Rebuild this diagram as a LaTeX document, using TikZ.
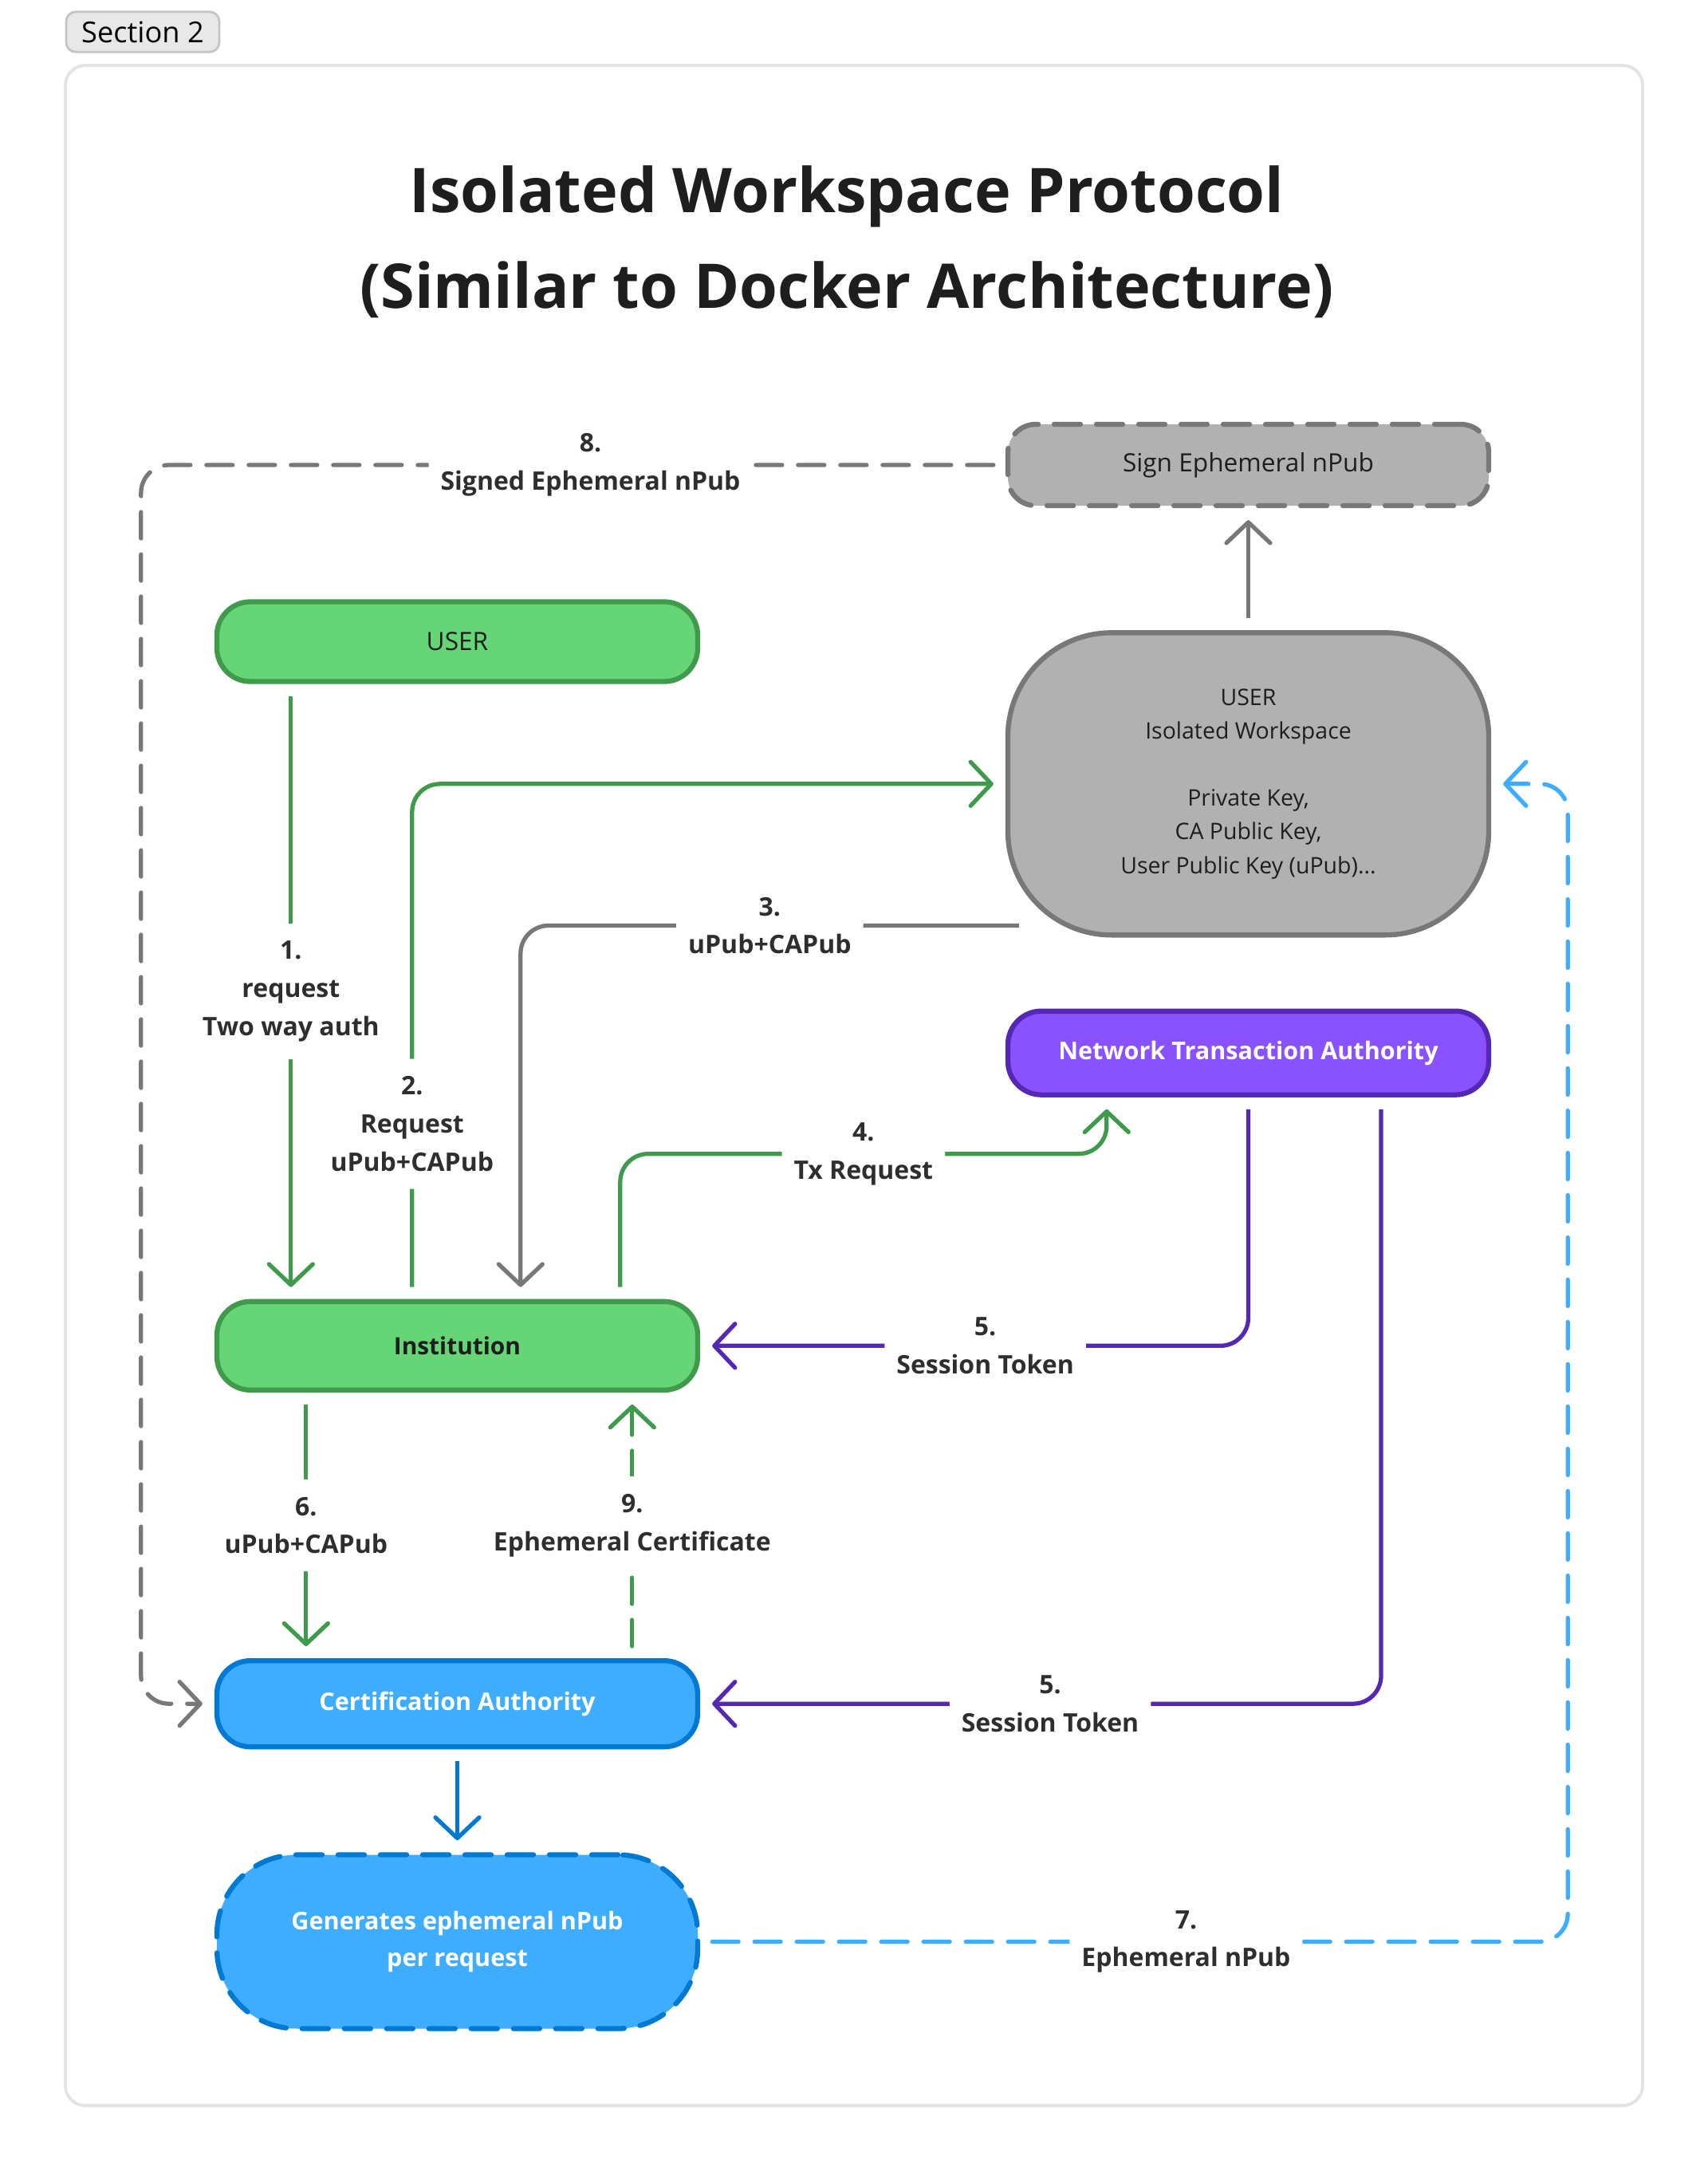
\documentclass[tikz,border=0pt]{standalone}
\usepackage{fontspec}
\setmainfont{Open Sans}
\setsansfont{Open Sans}
\usetikzlibrary{positioning,arrows.meta}
\definecolor{ink}{HTML}{1E1E1E}
\definecolor{lblink}{HTML}{2E2E2E}
\definecolor{grnfill}{HTML}{66D575}
\definecolor{grnline}{HTML}{3F9B4B}
\definecolor{grayfill}{HTML}{B1B1B1}
\definecolor{grayline}{HTML}{787878}
\definecolor{purfill}{HTML}{8951FF}
\definecolor{purline}{HTML}{5427B4}
\definecolor{bluefill}{HTML}{3FADFF}
\definecolor{blueline}{HTML}{0079D3}
\definecolor{framegray}{HTML}{E3E3E3}
\definecolor{tagfill}{HTML}{E8E8E8}
\definecolor{tagline}{HTML}{C4C4C4}

\begin{document}
\begin{tikzpicture}[
  every node/.style={font=\fontsize{9}{12}\selectfont, text=ink},
  box/.style={draw, line width=1.8pt, rounded corners=0.42cm, minimum width=6.03cm, minimum height=1cm, align=center},
  grnbox/.style={box, fill=grnfill, draw=grnline},
  graybox/.style={box, fill=grayfill, draw=grayline},
  purbox/.style={box, fill=purfill, draw=purline, text=white, font=\fontsize{8.7}{12}\selectfont\bfseries},
  bluebox/.style={box, fill=bluefill, draw=blueline, text=white, font=\fontsize{8.7}{13.3}\selectfont\bfseries},
  dashy/.style={dash pattern=on 0.33cm off 0.2cm, line cap=round},
  lbl/.style={fill=white, align=center, text=lblink, font=\fontsize{9.1}{13.6}\selectfont\bfseries, inner xsep=0.15cm, inner ysep=0.22cm},
  conn/.style={line width=1.5pt, rounded corners=0.35cm, shorten <=0.15cm, shorten >=0.15cm,
    -{Straight Barb[length=0.26cm, width=0.55cm, line cap=round, line join=round]}}
]
  \useasboundingbox (0,0) rectangle (21.42,-27.22);
  \draw[framegray, line width=1.1pt, rounded corners=0.25cm] (0.82,-0.82) rectangle (20.60,-26.40);
  \node[draw=tagline, fill=tagfill, line width=0.8pt, rounded corners=0.12cm, minimum width=1.92cm, minimum height=0.5cm,
    font=\fontsize{10.3}{12}\selectfont, text=black] (sec) at (1.79,-0.40) {Section 2};
  \node[align=center, font=\fontsize{22}{34}\selectfont\bfseries] (ttl) at (10.62,-3.03)
    {Isolated Workspace Protocol\\(Similar to Docker Architecture)};

  \node[grnbox] (user) at (5.735,-8.045) {USER};
  \node[grnbox, minimum height=1.11cm, below=7.71cm of user, font=\fontsize{8.5}{12}\selectfont\bfseries] (inst) {Institution};
  \node[bluebox, minimum height=1.08cm, below=3.33cm of inst] (ca) {Certification Authority};
  \node[bluebox, minimum height=2.18cm, below=1.29cm of ca, rounded corners=1cm, draw=blueline, dashy] (gen)
    {Generates ephemeral nPub\\per request};

  \node[graybox, rounded corners=0.35cm, dashy, minimum height=1.02cm] (sign) at (15.655,-5.83) {Sign Ephemeral nPub};
  \node[graybox, minimum height=3.79cm, rounded corners=1.3cm, below=1.53cm of sign, font=\fontsize{8.1}{12}\selectfont] (ws)
    {USER\\Isolated Workspace\\[12pt]Private Key,\\CA Public Key,\\User Public Key (uPub)...};
  \node[purbox, minimum height=1.05cm, below=0.89cm of ws] (nta) {Network Transaction Authority};

  \draw[conn, grayline] (ws) -- (sign);
  \draw[conn, grnline] ([xshift=0.96cm]user.south west) -- node[lbl] {1.\\request\\Two way auth} ([xshift=0.96cm]inst.north west);
  \draw[conn, grnline] ([xshift=2.48cm]inst.north west) |- node[lbl, pos=0.17] {2.\\Request\\uPub+CAPub} (ws.west);
  \draw[conn, grayline, shorten <=0pt] ([xshift=0.17cm, yshift=0.15cm]ws.south west) -| node[lbl, pos=0.25] {3.\\uPub+CAPub} ([xshift=3.84cm]inst.north west);
  \draw[conn, grnline] ([xshift=5.09cm]inst.north west) -- ++(0,1.82) -| node[lbl, pos=0.25] {4.\\Tx Request} ([xshift=1.27cm]nta.south west);
  \draw[conn, purline] (nta.south) |- node[lbl, pos=0.74] {5.\\Session Token} (inst.east);
  \draw[conn, purline] ([xshift=1.665cm]nta.south) |- node[lbl, pos=0.743] {5.\\Session Token} (ca.east);
  \draw[conn, grnline] ([xshift=1.15cm]inst.south west) -- node[lbl] {6.\\uPub+CAPub} ([xshift=1.15cm]ca.north west);
  \draw[conn, grnline, dashy] ([xshift=5.24cm]ca.north west) -- node[lbl] {9.\\Ephemeral Certificate} ([xshift=5.24cm]inst.south west);
  \draw[conn, blueline] (ca) -- (gen);
  \draw[conn, bluefill, dashy] (gen.east) -| node[lbl, pos=0.28] {7.\\Ephemeral nPub} ([xshift=0.96cm]ws.east) -- (ws.east);
  \draw[conn, grayline, dashy] (sign.west) -| node[lbl, pos=0.24] {8.\\Signed Ephemeral nPub} ([xshift=-0.92cm]ca.west) -- (ca.west);
\end{tikzpicture}
\end{document}
